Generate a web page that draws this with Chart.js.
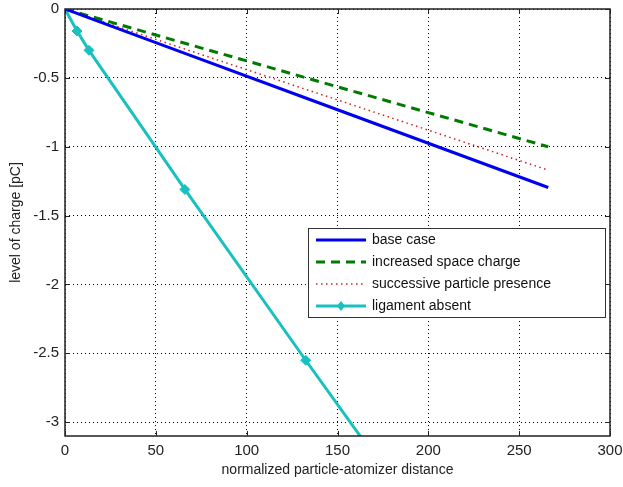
<!DOCTYPE html>
<html>
<head>
<meta charset="utf-8">
<script src="https://cdn.jsdelivr.net/npm/chart.js@4/dist/chart.umd.min.js"></script>
<style>
  html, body { margin: 0; padding: 0; background: #fff; }
  #wrap { width: 623px; height: 487px; }
</style>
</head>
<body>
<div id="wrap"><canvas id="chargeChart" width="623" height="487"></canvas></div>
<script>
// distances along the spray, normalized
const distances = [0, 6.6, 13.2, 66, 132.5, 266];

const baseCase = [0, -0.032, -0.064, -0.322, -0.646, -1.296];
const spaceCharge = [0, -0.025, -0.050, -0.249, -0.499, -1.0];
const successive = [0, -0.029, -0.058, -0.291, -0.583, -1.17];
const ligamentAbsent = [0, -0.16, -0.30, -1.31, -2.55, -5.0];

const xTicks = [0, 50, 100, 150, 200, 250, 300];
const yTicks = [0, -0.5, -1, -1.5, -2, -2.5, -3];

const seriesNames = ['base case', 'increased space charge', 'successive particle presence', 'ligament absent'];

const FONT = '"Liberation Sans", Arial, sans-serif';

function toPoints(ys) {
  return distances.map((x, i) => ({ x: x, y: ys[i] }));
}

// frame, inward tick marks and a boxed legend in the lower right
const matlabAxes = {
  id: 'matlabAxes',
  afterDraw(chart) {
    const ctx = chart.ctx;
    const a = chart.chartArea;
    const xs = chart.scales.x, ys = chart.scales.y;
    ctx.save();
    ctx.strokeStyle = '#222';
    ctx.lineWidth = 1.5;
    ctx.strokeRect(a.left, a.top, a.right - a.left, a.bottom - a.top);
    ctx.lineWidth = 1;
    xTicks.forEach(v => {
      const px = Math.round(xs.getPixelForValue(v)) + 0.5;
      ctx.beginPath();
      ctx.moveTo(px, a.bottom); ctx.lineTo(px, a.bottom - 5);
      ctx.moveTo(px, a.top); ctx.lineTo(px, a.top + 5);
      ctx.stroke();
    });
    yTicks.forEach(v => {
      const py = Math.round(ys.getPixelForValue(v)) + 0.5;
      ctx.beginPath();
      ctx.moveTo(a.left, py); ctx.lineTo(a.left + 5, py);
      ctx.moveTo(a.right, py); ctx.lineTo(a.right - 5, py);
      ctx.stroke();
    });

    // legend
    const bx = 308, by = 228, bw = 297, bh = 89;
    ctx.fillStyle = '#fff';
    ctx.fillRect(bx, by, bw, bh);
    ctx.strokeStyle = '#333';
    ctx.lineWidth = 1;
    ctx.strokeRect(bx + 0.5, by + 0.5, bw, bh);
    ctx.font = '14px ' + FONT;
    ctx.textBaseline = 'middle';
    chart.data.datasets.forEach((ds, i) => {
      const y = by + 12 + i * 22;
      ctx.save();
      ctx.strokeStyle = ds.borderColor;
      ctx.lineWidth = ds.borderWidth;
      ctx.setLineDash(ds.borderDash || []);
      ctx.beginPath();
      ctx.moveTo(bx + 8, y); ctx.lineTo(bx + 58, y);
      ctx.stroke();
      ctx.restore();
      if (ds.pointRadius > 0) {
        ctx.fillStyle = ds.borderColor;
        ctx.beginPath();
        ctx.moveTo(bx + 33, y - 5); ctx.lineTo(bx + 37, y);
        ctx.lineTo(bx + 33, y + 5); ctx.lineTo(bx + 29, y);
        ctx.closePath(); ctx.fill();
      }
      ctx.fillStyle = '#111';
      ctx.fillText(seriesNames[i], bx + 64, y);
    });
    ctx.restore();
  }
};

new Chart(document.getElementById('chargeChart'), {
  type: 'line',
  data: {
    datasets: [
      { label: seriesNames[0], data: toPoints(baseCase), borderColor: '#0000f0', borderWidth: 3, pointRadius: 0 },
      { label: seriesNames[1], data: toPoints(spaceCharge), borderColor: '#007a00', borderWidth: 3, borderDash: [9, 6], pointRadius: 0 },
      { label: seriesNames[2], data: toPoints(successive), borderColor: '#d02020', borderWidth: 1.5, borderDash: [1.5, 3.5], pointRadius: 0 },
      { label: seriesNames[3], data: toPoints(ligamentAbsent), borderColor: '#18c0c0', backgroundColor: '#18c0c0',
        borderWidth: 3, pointStyle: 'rectRot', pointRadius: 5, pointBorderWidth: 1 }
    ]
  },
  options: {
    responsive: false,
    animation: false,
    layout: { padding: { top: 9, right: 13, left: 0, bottom: 0 } },
    plugins: { legend: { display: false }, tooltip: { enabled: false } },
    scales: {
      x: {
        type: 'linear', min: 0, max: 300,
        afterBuildTicks: s => { s.ticks = xTicks.map(v => ({ value: v })); },
        afterFit: s => { s.height = 51; s.paddingLeft = 0; s.paddingRight = 0; },
        grid: { color: '#000', lineWidth: 1, drawTicks: false },
        border: { display: false, dash: [1, 3] },
        ticks: { color: '#222', font: { family: FONT, size: 15 }, padding: 6, maxRotation: 0 },
        title: { display: true, text: 'normalized particle-atomizer distance', color: '#222',
                 font: { family: FONT, size: 14 }, padding: { top: 0, bottom: 8 } }
      },
      y: {
        type: 'linear', min: -3.1, max: 0,
        afterBuildTicks: s => { s.ticks = yTicks.map(v => ({ value: v })); },
        afterFit: s => { s.width = 65; s.paddingTop = 0; s.paddingBottom = 0; },
        grid: { color: '#000', lineWidth: 1, drawTicks: false },
        border: { display: false, dash: [1, 3] },
        ticks: { color: '#222', font: { family: FONT, size: 15 }, padding: 6,
                 callback: v => String(v) },
        title: { display: true, text: 'level of charge [pC]', color: '#222',
                 font: { family: FONT, size: 14 }, padding: { top: 8, bottom: 0 } }
      }
    }
  },
  plugins: [matlabAxes]
});
</script>
</body>
</html>
